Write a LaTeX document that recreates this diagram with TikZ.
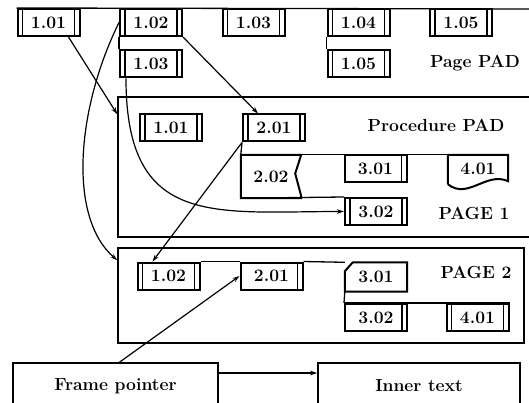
\documentclass[tikz,border=0pt]{standalone}
\usepackage{fontspec}
\usepackage{tikz}
\usetikzlibrary{arrows.meta,positioning}

\newcommand\padfont{\fontsize{17.5}{20}\selectfont\bfseries}

\tikzset{
  padbox/.style={draw, line width=2pt, minimum width=62pt, minimum height=27pt,
    inner sep=0pt, font=\padfont},
  % boxes with a double bar on both sides
  subbox/.style={padbox, path picture={
      \draw[line width=1.1pt] ([xshift=5pt]path picture bounding box.north west)
        -- ([xshift=5pt]path picture bounding box.south west);
      \draw[line width=1.1pt] ([xshift=-5pt]path picture bounding box.north east)
        -- ([xshift=-5pt]path picture bounding box.south east);}},
  % double bar on the right only
  subrbox/.style={padbox, path picture={
      \draw[line width=1.1pt] ([xshift=-5pt]path picture bounding box.north east)
        -- ([xshift=-5pt]path picture bounding box.south east);}},
  shapebox/.style={minimum width=62pt, minimum height=28pt, inner sep=0pt, font=\padfont},
  outline/.style={line width=2pt, line join=miter},
  frame/.style={draw, line width=1.5pt},
  link/.style={line width=1.3pt},
  ptr/.style={line width=1.2pt, -{Stealth[length=7pt,width=4.5pt]}},
}

\begin{document}
\begin{tikzpicture}[x=1pt,y=-1pt]
\useasboundingbox (0,0) rectangle (529,403);
\clip (0,0) rectangle (529,403);

% Page PAD
\node[subbox] (p101) at (48.5,22.5) {1.01};
\node[subbox] (p102) at (151,22.5) {1.02};
\node[subbox] (p103) at (253.5,22.5) {1.03};
\node[subbox] (p104) at (358.5,22.5) {1.04};
\node[subbox] (p105) at (461,22.5) {1.05};
\node[subbox] (p103b) at (151,64) {1.03};
\node[subbox] (p105b) at (358.5,64) {1.05};
\node[font=\padfont] (pagepad) at (475,63) {Page PAD};

\coordinate (topend) at (540,9);
\draw[link] (p101.north west) -- (topend);
\draw[link] (p102.south west) -- (p103b.north west);
\draw[link] (p104.south west) -- (p105b.north west);

% PAGE 1 with the procedure PAD
\node[frame, minimum width=422pt, minimum height=140pt] (page1) at (329,167) {};
\node[font=\padfont] (procpad) at (436,125) {Procedure PAD};
\node[font=\padfont] (page1lbl) at (474,213) {PAGE 1};

\node[subbox] (q101) at (171,128) {1.01};
\node[subbox] (q201) at (274,128) {2.01};
\node[shapebox, minimum width=60pt, minimum height=43pt] (q202) at (271,176.5) {2.02};
\node[subrbox] (q301) at (375.5,169) {3.01};
\node[shapebox, minimum width=60pt] (q401) at (478,169) {4.01};
\node[subbox] (q302) at (376,211.5) {3.02};

% select box with the notch on its right side
\draw[outline] (q202.north west) -- (q202.north east)
  -- ([xshift=-6pt,yshift=3pt]q202.east) -- ([yshift=2pt]q202.south east)
  -- (q202.south east) -- (q202.south west) -- cycle;
% box with a wavy bottom
\draw[outline] ([yshift=-1pt]q401.south west) -- (q401.north west) -- (q401.north east)
  -- ([yshift=2pt]q401.south east)
  .. controls +(-22,-10) and +(20,16) .. ([yshift=-1pt]q401.south west);

\draw[link] (q201.south west) -- (q202.north west);
\draw[link] (q202.north west) -- (q401.north east);
\draw[link] (q202.south west) -- (q302.north west);

% PAGE 2
\node[frame, minimum width=406pt, minimum height=95pt] (page2) at (321,295.5) {};
\node[font=\padfont] (page2lbl) at (476,272) {PAGE 2};

\node[subbox] (r102) at (168.5,276) {1.02};
\node[subrbox] (r201) at (271.5,276) {2.01};
\node[shapebox, minimum height=29pt] (r301) at (376,277) {3.01};
\node[subrbox] (r302) at (376,317.5) {3.02};
\node[subbox] (r401) at (477.5,317.5) {4.01};

% box with the cut corner
\draw[outline] ([xshift=8pt]r301.north west) -- (r301.north east) -- (r301.south east)
  -- (r301.south west) -- ([yshift=-9pt]r301.north west) -- cycle;

\draw[link] (r102.north east) -- (r201.north west);
\draw[link] (r201.north east) -- (r301.north west);
\draw[link] (r301.south west) -- (r302.north west);
\draw[link] (r302.north west) -- (r401.north east);

% frame pointer and inner text
\node[padbox, line width=1.6pt, minimum width=205pt, minimum height=46pt] (fp) at (115.5,386) {Frame pointer};
\node[padbox, line width=1.6pt, minimum width=202pt, minimum height=46pt] (it) at (419,386) {Inner text};

% pointers
\draw[ptr] ([xshift=-12pt]p101.south east) -- ([yshift=-18pt]page1.north west);
\draw[ptr] (p102.south east) -- ([xshift=16pt]q201.north west);
\draw[ptr] (p102.west) .. controls (76,110) and (68,218) .. ([yshift=-13pt]page2.north west);
\draw[ptr] ([xshift=7pt]p103b.south west) .. controls +(0,150) and +(-130,0) .. (q302.west);
\draw[ptr] (q201.south west) -- ([xshift=16pt]r102.north west);
\draw[ptr] ([xshift=4pt]fp.north) -- (r201.west);
\draw[ptr] ([yshift=13pt]fp.east) -- ([yshift=13pt]it.west);

\end{tikzpicture}
\end{document}
